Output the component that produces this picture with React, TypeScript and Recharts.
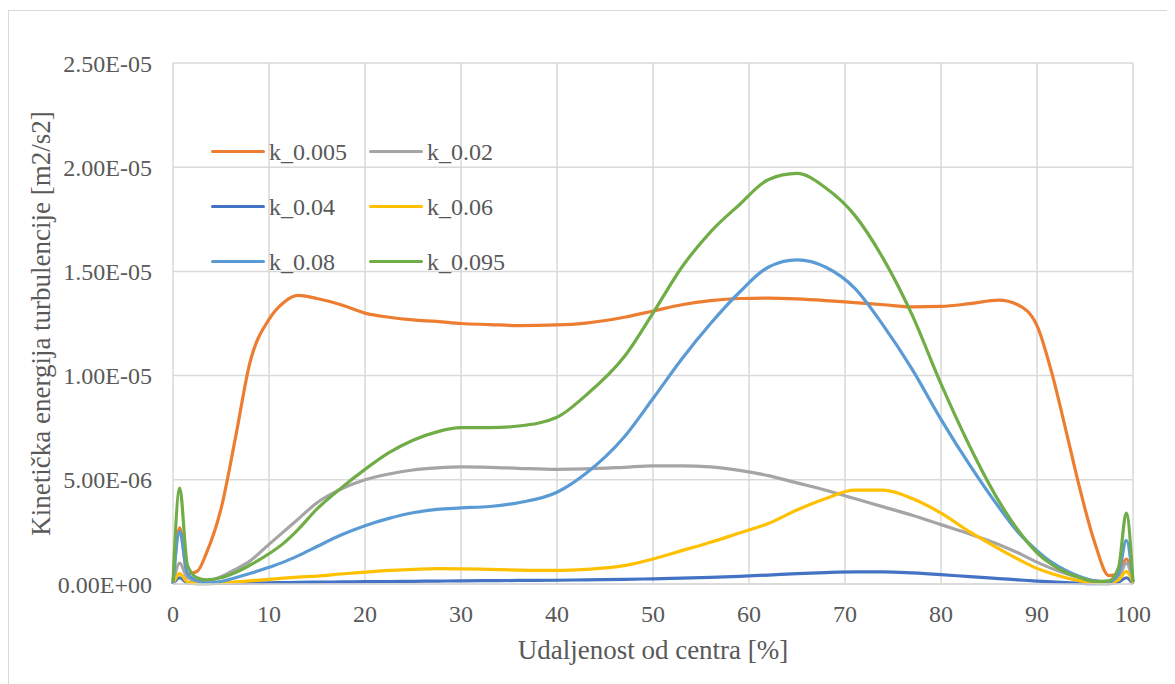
import React from "react";
import { LineChart, Line, XAxis, YAxis, CartesianGrid } from "recharts";

// udaljenost od centra [%]
const xs = [
  0, 0.7, 1.5, 2.5, 3.5, 5, 6.5, 8, 10, 11.5, 13, 15, 17.5, 20, 22.5, 25, 27.5, 30, 33, 36, 40, 43, 47, 50,
  53, 56, 59, 62, 65, 68, 71, 74, 77, 80, 83, 86, 88, 90, 91.5, 93, 94.5, 96, 97.5, 98.5, 99.3, 100,
];

// vrijednosti u 1e-6 m2/s2
const k005 = [
  0, 2.7, 0.5, 0.6, 1.5, 3.6, 7.0, 10.6, 12.7, 13.5, 13.85, 13.7, 13.4, 13.0, 12.8, 12.67, 12.6, 12.5, 12.45,
  12.4, 12.43, 12.52, 12.8, 13.1, 13.4, 13.6, 13.7, 13.72, 13.68, 13.6, 13.5, 13.4, 13.3, 13.32, 13.45, 13.62,
  13.4, 12.4, 10.2, 7.4, 4.5, 2.0, 0.4, 0.5, 1.2, 0.1,
];
const k02 = [
  0, 1.0, 0.3, 0.15, 0.15, 0.35, 0.7, 1.1, 1.9, 2.5, 3.1, 3.9, 4.55, 5.0, 5.28, 5.47, 5.57, 5.62, 5.6, 5.55,
  5.5, 5.52, 5.6, 5.67, 5.67, 5.62, 5.45, 5.2, 4.85, 4.5, 4.1, 3.7, 3.3, 2.85, 2.4, 1.9, 1.5, 1.05, 0.75, 0.5,
  0.3, 0.15, 0.1, 0.3, 1.0, 0.1,
];
const k04 = [
  0, 0.3, 0.05, 0.02, 0.02, 0.03, 0.04, 0.05, 0.06, 0.07, 0.08, 0.09, 0.1, 0.11, 0.12, 0.13, 0.14, 0.15, 0.16,
  0.17, 0.18, 0.2, 0.22, 0.25, 0.28, 0.32, 0.37, 0.43, 0.5, 0.55, 0.58, 0.58, 0.53, 0.45, 0.35, 0.26, 0.2, 0.14,
  0.1, 0.07, 0.04, 0.02, 0.02, 0.1, 0.3, 0,
];
const k06 = [
  0, 0.5, 0.1, 0.03, 0.03, 0.05, 0.1, 0.15, 0.22, 0.28, 0.33, 0.38, 0.48, 0.57, 0.65, 0.7, 0.74, 0.73, 0.7,
  0.67, 0.65, 0.7, 0.88, 1.2, 1.6, 2.0, 2.45, 2.9, 3.55, 4.1, 4.5, 4.5, 4.1, 3.4, 2.5, 1.7, 1.2, 0.75, 0.5, 0.3,
  0.15, 0.07, 0.05, 0.2, 0.6, 0.05,
];
const k08 = [
  0, 2.5, 0.5, 0.15, 0.05, 0.12, 0.3, 0.5, 0.8, 1.05, 1.35, 1.8, 2.35, 2.8, 3.15, 3.42, 3.58, 3.65, 3.72, 3.9,
  4.4, 5.3, 7.05, 8.9, 10.8, 12.5, 14.0, 15.2, 15.55, 15.2, 14.2, 12.4, 10.3, 7.9, 5.7, 3.7, 2.5, 1.6, 1.05,
  0.65, 0.35, 0.15, 0.1, 0.5, 2.1, 0.1,
];
const k095 = [
  0.1, 4.6, 0.9, 0.3, 0.2, 0.3, 0.55, 0.9, 1.45, 1.95, 2.6, 3.6, 4.6, 5.5, 6.3, 6.9, 7.3, 7.5, 7.5, 7.58, 8.0,
  9.05, 10.9, 13.0, 15.2, 16.9, 18.2, 19.4, 19.7, 19.0, 17.7, 15.6, 12.9, 9.6, 6.6, 4.0, 2.6, 1.5, 0.95, 0.55,
  0.3, 0.12, 0.15, 0.8, 3.4, 0.1,
];

const xTicks = [0, 10, 20, 30, 40, 50, 60, 70, 80, 90, 100];
const yTicks = [0, 5e-6, 1e-5, 1.5e-5, 2e-5, 2.5e-5];

const series = [
  { key: "k_0.005", values: k005, color: "#ED7D31" },
  { key: "k_0.02", values: k02, color: "#A5A5A5" },
  { key: "k_0.04", values: k04, color: "#4472C4" },
  { key: "k_0.06", values: k06, color: "#FFC000" },
  { key: "k_0.08", values: k08, color: "#5B9BD5" },
  { key: "k_0.095", values: k095, color: "#70AD47" },
];

const data = xs.map((x, i) => {
  const row: Record<string, number> = { x };
  series.forEach((s) => (row[s.key] = s.values[i] * 1e-6));
  return row;
});

const fmtSci = (v: number) => {
  if (v === 0) return "0.00E+00";
  const exp = Math.floor(Math.log10(Math.abs(v)) + 1e-9);
  const mant = v / Math.pow(10, exp);
  const sign = exp < 0 ? "-" : "+";
  return `${mant.toFixed(2)}E${sign}${String(Math.abs(exp)).padStart(2, "0")}`;
};

const FONT = "Liberation Serif";
const tickStyle = { fill: "#595959", fontSize: 24, fontFamily: FONT };

export default function App() {
  return (
    <div
      style={{
        position: "relative",
        marginTop: 2,
        width: 1175,
        height: 690,
        border: "1px solid #d9d9d9",
        fontFamily: FONT,
      }}
    >
      <LineChart
        width={1160}
        height={670}
        data={data}
        margin={{ top: 52, right: 36, left: 0, bottom: 0 }}
        style={{ fontFamily: FONT }}
      >
        <CartesianGrid stroke="#d9d9d9" strokeWidth={1.5} />
        <XAxis
          dataKey="x"
          type="number"
          domain={[0, 100]}
          ticks={xTicks}
          height={97}
          tickLine={false}
          tickSize={0}
          tickMargin={21}
          axisLine={{ stroke: "#d9d9d9", strokeWidth: 1.5 }}
          tick={tickStyle}
          fontFamily={FONT}
          label={{
            value: "Udaljenost od centra [%]",
            position: "insideBottom",
            offset: 22,
            fill: "#595959",
            fontSize: 27,
            fontFamily: FONT,
          }}
        />
        <YAxis
          type="number"
          domain={[0, 2.5e-5]}
          ticks={yTicks}
          width={164}
          tickLine={false}
          tickSize={0}
          tickMargin={21}
          axisLine={false}
          tick={tickStyle}
          fontFamily={FONT}
          tickFormatter={fmtSci}
          label={{
            value: "Kinetička energija turbulencije [m2/s2]",
            angle: -90,
            position: "insideLeft",
            offset: 0,
            dx: 31,
            fill: "#595959",
            fontSize: 27,
            fontFamily: FONT,
            textAnchor: "middle",
          }}
        />
        {series.map((s) => (
          <Line
            key={s.key}
            type="monotone"
            dataKey={s.key}
            stroke={s.color}
            strokeWidth={3.2}
            dot={false}
            isAnimationActive={false}
          />
        ))}
      </LineChart>
      <div
        style={{
          position: "absolute",
          left: 202,
          top: 113,
          display: "grid",
          gridTemplateColumns: "158px 158px",
          gridAutoRows: "55px",
        }}
      >
        {series.map((s) => (
          <div key={s.key} style={{ display: "flex", alignItems: "center" }}>
            <div style={{ width: 54, height: 3.5, background: s.color, marginRight: 4, borderRadius: 2 }} />
            <span style={{ fontSize: 24, color: "#595959", lineHeight: "24px", fontFamily: FONT }}>{s.key}</span>
          </div>
        ))}
      </div>
    </div>
  );
}
